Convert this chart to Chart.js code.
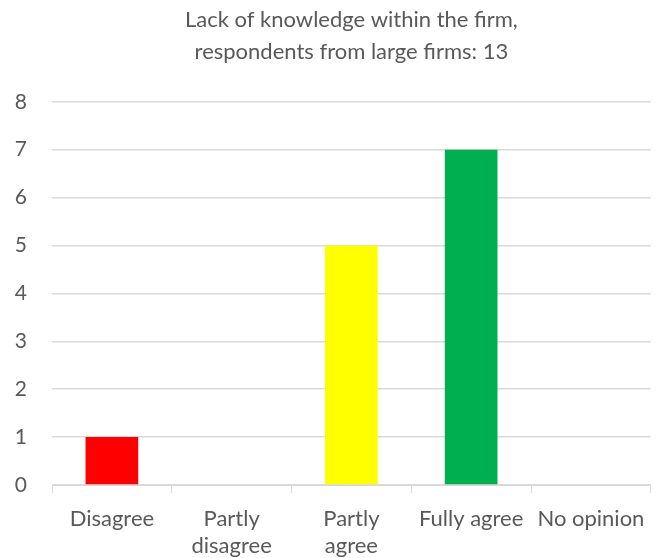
<!DOCTYPE html>
<html>
<head>
<meta charset="utf-8">
<script src="https://cdn.jsdelivr.net/npm/chart.js@4"></script>
<style>
  html, body { margin: 0; padding: 0; background: #fff; }
  #wrap { width: 657px; height: 558px; }
</style>
</head>
<body>
<div id="wrap"><canvas id="chart" width="657" height="558"></canvas></div>
<script>
// Answers to "Lack of knowledge within the firm"
const categories = ['Disagree', ['Partly', 'disagree'], ['Partly', 'agree'], 'Fully agree', 'No opinion'];
const counts = [1, 0, 5, 7, 0];
const barColors = ['#ff0000', '#ff0000', '#ffff00', '#00b050', '#7f7f7f'];
const yTicks = [0, 1, 2, 3, 4, 5, 6, 7, 8];

const textColor = '#595959';
const fontFamily = 'Lato, "Liberation Sans", sans-serif';

new Chart(document.getElementById('chart').getContext('2d'), {
    type: 'bar',
    data: {
        labels: categories,
        datasets: [{
            data: counts,
            backgroundColor: barColors,
            borderWidth: 0,
            categoryPercentage: 0.44,
            barPercentage: 1
        }]
    },
    options: {
        responsive: false,
        animation: false,
        layout: { padding: { left: 0, right: 3, top: 0, bottom: 0 } },
        plugins: {
            legend: { display: false },
            tooltip: { enabled: false },
            title: {
                display: true,
                fullSize: false,
                text: ['Lack of knowledge within the firm,', 'respondents from large firms: 13'],
                color: textColor,
                font: { family: fontFamily, size: 22, weight: 'normal', lineHeight: 1.45 },
                padding: { top: 4, bottom: 34 }
            }
        },
        scales: {
            x: {
                afterFit: axis => { axis.height = 73; },
                grid: {
                    display: true,
                    drawOnChartArea: false,
                    drawTicks: true,
                    tickLength: 8,
                    color: '#d9d9d9',
                    offset: true
                },
                border: { display: true, color: '#d9d9d9' },
                ticks: {
                    color: textColor,
                    font: { family: fontFamily, size: 22, lineHeight: 1.23 },
                    autoSkip: false,
                    maxRotation: 0,
                    padding: 12
                }
            },
            y: {
                min: 0,
                max: 8,
                afterFit: axis => { axis.width = 52; },
                afterBuildTicks: axis => { axis.ticks = yTicks.map(v => ({ value: v })); },
                grid: { color: '#d9d9d9', drawTicks: false, lineWidth: 1.5 },
                border: { display: false },
                ticks: {
                    color: textColor,
                    font: { family: fontFamily, size: 21 },
                    padding: 25
                }
            }
        }
    }
});
</script>
</body>
</html>
